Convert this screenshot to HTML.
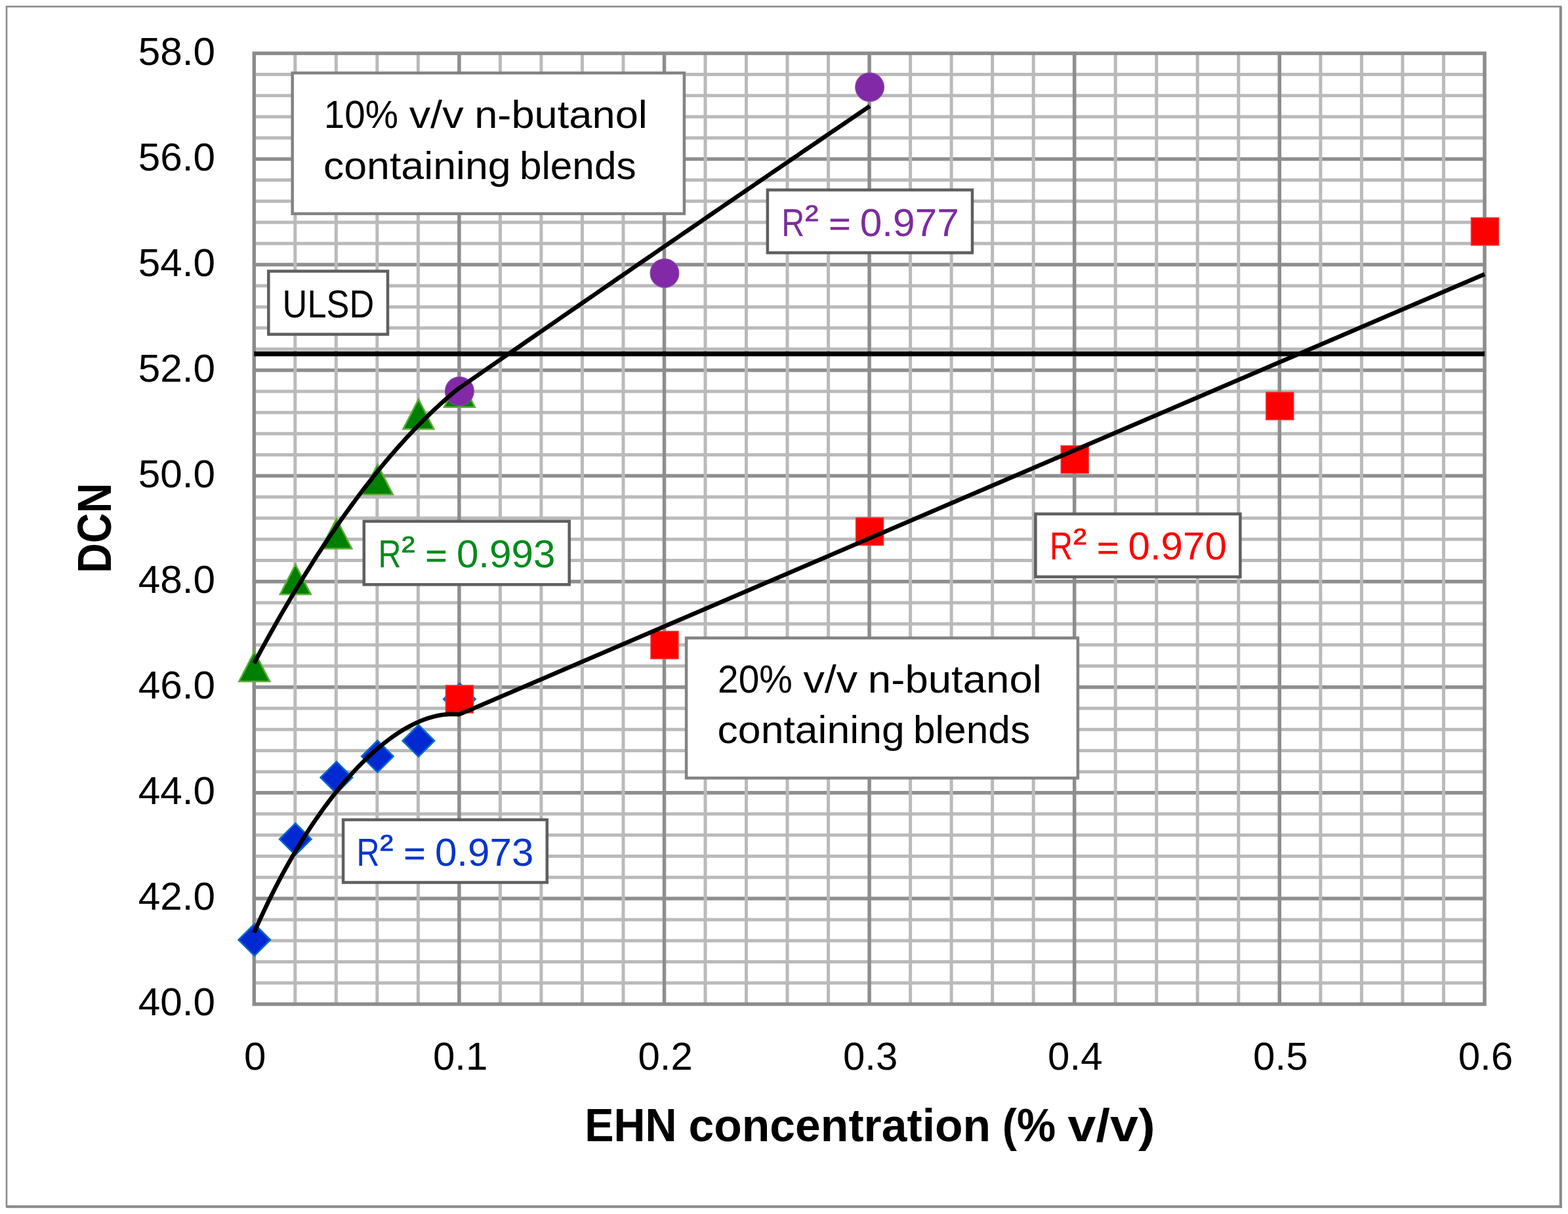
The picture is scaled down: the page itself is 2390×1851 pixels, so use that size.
<!DOCTYPE html>
<html><head><meta charset="utf-8"><title>DCN vs EHN concentration</title>
<style>html,body{margin:0;padding:0;background:#fff;}svg{display:block;}</style>
</head><body>
<svg xmlns="http://www.w3.org/2000/svg" width="2390" height="1851" viewBox="0 0 2390 1851"><rect x="0" y="0" width="2390" height="1851" fill="#fff"/>
<rect x="10" y="10" width="2369" height="1830" fill="none" stroke="#8a8a8a" stroke-width="2.6"/>
<line x1="2378.8" y1="10" x2="2378.8" y2="1841.8" stroke="#8a8a8a" stroke-width="4"/>
<line x1="10" y1="1839.8" x2="2380.8" y2="1839.8" stroke="#8a8a8a" stroke-width="4"/>
<path d="M387.30 113.52H2262.90M387.30 145.73H2262.90M387.30 177.95H2262.90M387.30 210.16H2262.90M387.30 274.60H2262.90M387.30 306.81H2262.90M387.30 339.03H2262.90M387.30 371.24H2262.90M387.30 435.68H2262.90M387.30 467.89H2262.90M387.30 500.11H2262.90M387.30 532.32H2262.90M387.30 596.76H2262.90M387.30 628.97H2262.90M387.30 661.19H2262.90M387.30 693.40H2262.90M387.30 757.84H2262.90M387.30 790.05H2262.90M387.30 822.27H2262.90M387.30 854.48H2262.90M387.30 918.92H2262.90M387.30 951.13H2262.90M387.30 983.35H2262.90M387.30 1015.56H2262.90M387.30 1080.00H2262.90M387.30 1112.21H2262.90M387.30 1144.43H2262.90M387.30 1176.64H2262.90M387.30 1241.08H2262.90M387.30 1273.29H2262.90M387.30 1305.51H2262.90M387.30 1337.72H2262.90M387.30 1402.16H2262.90M387.30 1434.37H2262.90M387.30 1466.59H2262.90M387.30 1498.80H2262.90" stroke="#bababa" stroke-width="5.0" fill="none"/>
<path d="M387.30 242.38H2262.90M387.30 403.46H2262.90M387.30 564.54H2262.90M387.30 725.62H2262.90M387.30 886.70H2262.90M387.30 1047.78H2262.90M387.30 1208.86H2262.90M387.30 1369.94H2262.90" stroke="#8e8e8e" stroke-width="5.5" fill="none"/>
<path d="M449.82 81.30V1531.02M512.34 81.30V1531.02M574.86 81.30V1531.02M637.38 81.30V1531.02M762.42 81.30V1531.02M824.94 81.30V1531.02M887.46 81.30V1531.02M949.98 81.30V1531.02M1075.02 81.30V1531.02M1137.54 81.30V1531.02M1200.06 81.30V1531.02M1262.58 81.30V1531.02M1387.62 81.30V1531.02M1450.14 81.30V1531.02M1512.66 81.30V1531.02M1575.18 81.30V1531.02M1700.22 81.30V1531.02M1762.74 81.30V1531.02M1825.26 81.30V1531.02M1887.78 81.30V1531.02M2012.82 81.30V1531.02M2075.34 81.30V1531.02M2137.86 81.30V1531.02M2200.38 81.30V1531.02" stroke="#bababa" stroke-width="5.0" fill="none"/>
<path d="M699.90 81.30V1531.02M1012.50 81.30V1531.02M1325.10 81.30V1531.02M1637.70 81.30V1531.02M1950.30 81.30V1531.02" stroke="#8e8e8e" stroke-width="5.5" fill="none"/>
<rect x="387.30" y="81.30" width="1875.60" height="1449.72" fill="none" stroke="#8c8c8c" stroke-width="5.5"/>
<line x1="387.30" y1="539.5" x2="2262.90" y2="539.5" stroke="#000" stroke-width="7.3"/>
<path d="M387.80 1408.70L412.10 1433.00L387.80 1457.30L363.50 1433.00Z" fill="#0029d2" stroke="#0a6cc6" stroke-width="2.5"/>
<path d="M450.32 1255.20L474.62 1279.50L450.32 1303.80L426.02 1279.50Z" fill="#0029d2" stroke="#0a6cc6" stroke-width="2.5"/>
<path d="M512.84 1161.20L537.14 1185.50L512.84 1209.80L488.54 1185.50Z" fill="#0029d2" stroke="#0a6cc6" stroke-width="2.5"/>
<path d="M575.36 1129.00L599.66 1153.30L575.36 1177.60L551.06 1153.30Z" fill="#0029d2" stroke="#0a6cc6" stroke-width="2.5"/>
<path d="M637.88 1105.20L662.18 1129.50L637.88 1153.80L613.58 1129.50Z" fill="#0029d2" stroke="#0a6cc6" stroke-width="2.5"/>
<path d="M700.40 1041.70L724.70 1066.00L700.40 1090.30L676.10 1066.00Z" fill="#0029d2" stroke="#0a6cc6" stroke-width="2.5"/>
<path d="M387.80 993.50L411.30 1039.00L364.30 1039.00Z" fill="#008000" stroke="#62ad3c" stroke-width="2.5" stroke-linejoin="miter"/>
<path d="M450.32 860.80L473.82 906.30L426.82 906.30Z" fill="#008000" stroke="#62ad3c" stroke-width="2.5" stroke-linejoin="miter"/>
<path d="M512.84 791.00L536.34 836.50L489.34 836.50Z" fill="#008000" stroke="#62ad3c" stroke-width="2.5" stroke-linejoin="miter"/>
<path d="M575.36 708.40L598.86 753.90L551.86 753.90Z" fill="#008000" stroke="#62ad3c" stroke-width="2.5" stroke-linejoin="miter"/>
<path d="M637.88 608.80L661.38 654.30L614.38 654.30Z" fill="#008000" stroke="#62ad3c" stroke-width="2.5" stroke-linejoin="miter"/>
<path d="M700.40 575.20L723.90 620.70L676.90 620.70Z" fill="#008000" stroke="#62ad3c" stroke-width="2.5" stroke-linejoin="miter"/>
<rect x="679.40" y="1045.00" width="42.00" height="42.00" fill="#ff0000" stroke="#e83a3a" stroke-width="1.5"/>
<rect x="992.00" y="962.50" width="42.00" height="42.00" fill="#ff0000" stroke="#e83a3a" stroke-width="1.5"/>
<rect x="1304.60" y="789.40" width="42.00" height="42.00" fill="#ff0000" stroke="#e83a3a" stroke-width="1.5"/>
<rect x="1617.20" y="679.60" width="42.00" height="42.00" fill="#ff0000" stroke="#e83a3a" stroke-width="1.5"/>
<rect x="1929.80" y="598.00" width="42.00" height="42.00" fill="#ff0000" stroke="#e83a3a" stroke-width="1.5"/>
<rect x="2242.40" y="332.00" width="42.00" height="42.00" fill="#ff0000" stroke="#e83a3a" stroke-width="1.5"/>
<circle cx="700.40" cy="596.40" r="21.9" fill="#8129a6" stroke="#8a4ea8" stroke-width="1.2"/>
<circle cx="1013.00" cy="416.50" r="21.9" fill="#8129a6" stroke="#8a4ea8" stroke-width="1.2"/>
<circle cx="1325.60" cy="132.80" r="21.9" fill="#8129a6" stroke="#8a4ea8" stroke-width="1.2"/>
<path d="M387.30 1011.32 L392.60 1001.44 L397.89 991.66 L403.19 981.97 L408.49 972.38 L413.78 962.89 L419.08 953.49 L424.38 944.18 L429.67 934.97 L434.97 925.86 L440.27 916.84 L445.56 907.91 L450.86 899.08 L456.16 890.35 L461.45 881.71 L466.75 873.17 L472.05 864.72 L477.34 856.37 L482.64 848.11 L487.94 839.95 L493.23 831.88 L498.53 823.91 L503.83 816.03 L509.12 808.25 L514.42 800.56 L519.72 792.97 L525.01 785.47 L530.31 778.07 L535.61 770.76 L540.90 763.55 L546.20 756.43 L551.49 749.41 L556.79 742.49 L562.09 735.66 L567.38 728.92 L572.68 722.28 L577.98 715.74 L583.27 709.29 L588.57 702.93 L593.87 696.67 L599.16 690.51 L604.46 684.44 L609.76 678.47 L615.05 672.59 L620.35 666.80 L625.65 661.12 L630.94 655.52 L636.24 650.03 L641.54 644.62 L646.83 639.31 L652.13 634.10 L657.43 628.99 L662.72 623.96 L668.02 619.04 L673.32 614.20 L678.61 609.47 L683.91 604.83 L689.21 600.28 L694.50 595.83 L699.80 591.69 L707.72 586.40 L715.65 580.90 L723.57 575.40 L731.50 569.90 L739.42 564.41 L747.34 558.91 L755.27 553.42 L763.19 547.93 L771.12 542.44 L779.04 536.95 L786.96 531.46 L794.89 525.98 L802.81 520.50 L810.74 515.01 L818.66 509.53 L826.58 504.05 L834.51 498.58 L842.43 493.10 L850.36 487.62 L858.28 482.15 L866.21 476.68 L874.13 471.21 L882.05 465.74 L889.98 460.27 L897.90 454.80 L905.83 449.34 L913.75 443.88 L921.67 438.41 L929.60 432.95 L937.52 427.49 L945.45 422.04 L953.37 416.58 L961.29 411.12 L969.22 405.67 L977.14 400.22 L985.07 394.77 L992.99 389.32 L1000.91 383.87 L1008.84 378.43 L1016.76 372.98 L1024.69 367.54 L1032.61 362.10 L1040.53 356.66 L1048.46 351.22 L1056.38 345.78 L1064.31 340.34 L1072.23 334.91 L1080.15 329.48 L1088.08 324.04 L1096.00 318.61 L1103.93 313.19 L1111.85 307.76 L1119.77 302.33 L1127.70 296.91 L1135.62 291.48 L1143.55 286.06 L1151.47 280.64 L1159.39 275.22 L1167.32 269.81 L1175.24 264.39 L1183.17 258.98 L1191.09 253.56 L1199.02 248.15 L1206.94 242.74 L1214.86 237.33 L1222.79 231.93 L1230.71 226.52 L1238.64 221.12 L1246.56 215.71 L1254.48 210.31 L1262.41 204.91 L1270.33 199.52 L1278.26 194.12 L1286.18 188.72 L1294.10 183.33 L1302.03 177.94 L1309.95 172.55 L1317.88 167.16 L1325.80 161.77" fill="none" stroke="#000" stroke-width="6.5" stroke-linejoin="round"/>
<path d="M387.30 1421.87 L392.60 1409.95 L397.89 1398.33 L403.19 1387.01 L408.49 1375.98 L413.78 1365.22 L419.08 1354.74 L424.38 1344.51 L429.67 1334.54 L434.97 1324.83 L440.27 1315.35 L445.56 1306.11 L450.86 1297.10 L456.16 1288.31 L461.45 1279.74 L466.75 1271.39 L472.05 1263.24 L477.34 1255.30 L482.64 1247.56 L487.94 1240.01 L493.23 1232.66 L498.53 1225.50 L503.83 1218.52 L509.12 1211.72 L514.42 1205.11 L519.72 1198.67 L525.01 1192.41 L530.31 1186.33 L535.61 1180.41 L540.90 1174.67 L546.20 1169.11 L551.49 1163.71 L556.79 1158.48 L562.09 1153.43 L567.38 1148.54 L572.68 1143.83 L577.98 1139.29 L583.27 1134.93 L588.57 1130.74 L593.87 1126.73 L599.16 1122.90 L604.46 1119.25 L609.76 1115.79 L615.05 1112.52 L620.35 1109.43 L625.65 1106.54 L630.94 1103.85 L636.24 1101.37 L641.54 1099.09 L646.83 1097.02 L652.13 1095.17 L657.43 1093.55 L662.72 1092.15 L668.02 1090.99 L673.32 1090.06 L678.61 1089.39 L683.91 1088.96 L689.21 1088.80 L694.50 1088.91 L699.80 1089.36 L719.59 1080.94 L739.37 1072.44 L759.16 1063.94 L778.94 1055.44 L798.73 1046.95 L818.52 1038.45 L838.30 1029.95 L858.09 1021.45 L877.87 1012.95 L897.66 1004.46 L917.45 995.96 L937.23 987.46 L957.02 978.96 L976.81 970.46 L996.59 961.97 L1016.38 953.47 L1036.16 944.97 L1055.95 936.47 L1075.74 927.97 L1095.52 919.48 L1115.31 910.98 L1135.09 902.48 L1154.88 893.98 L1174.67 885.48 L1194.45 876.99 L1214.24 868.49 L1234.02 859.99 L1253.81 851.49 L1273.60 842.99 L1293.38 834.50 L1313.17 826.00 L1332.95 817.50 L1352.74 809.00 L1372.53 800.50 L1392.31 792.01 L1412.10 783.51 L1431.88 775.01 L1451.67 766.51 L1471.46 758.01 L1491.24 749.52 L1511.03 741.02 L1530.82 732.52 L1550.60 724.02 L1570.39 715.52 L1590.17 707.03 L1609.96 698.53 L1629.75 690.03 L1649.53 681.53 L1669.32 673.03 L1689.10 664.54 L1708.89 656.04 L1728.68 647.54 L1748.46 639.04 L1768.25 630.54 L1788.03 622.05 L1807.82 613.55 L1827.61 605.05 L1847.39 596.55 L1867.18 588.05 L1886.96 579.56 L1906.75 571.06 L1926.54 562.56 L1946.32 554.06 L1966.11 545.56 L1985.89 537.07 L2005.68 528.57 L2025.47 520.07 L2045.25 511.57 L2065.04 503.07 L2084.83 494.58 L2104.61 486.08 L2124.40 477.58 L2144.18 469.08 L2163.97 460.58 L2183.76 452.08 L2203.54 443.59 L2223.33 435.09 L2243.11 426.59 L2262.90 418.09" fill="none" stroke="#000" stroke-width="6.5" stroke-linejoin="round"/>
<rect x="445.70" y="111.30" width="597.20" height="214.50" fill="#fff" stroke="#838383" stroke-width="4.5"/>
<rect x="1046.10" y="972.70" width="596.80" height="213.60" fill="#fff" stroke="#838383" stroke-width="4.5"/>
<rect x="409.30" y="413.50" width="181.70" height="96.20" fill="#fff" stroke="#5f5f5f" stroke-width="4.5"/>
<rect x="1169.90" y="289.60" width="312.10" height="95.80" fill="#fff" stroke="#5f5f5f" stroke-width="4.5"/>
<rect x="554.80" y="794.80" width="312.90" height="96.50" fill="#fff" stroke="#5f5f5f" stroke-width="4.5"/>
<rect x="523.10" y="1249.90" width="310.70" height="95.60" fill="#fff" stroke="#5f5f5f" stroke-width="4.5"/>
<rect x="1578.40" y="783.60" width="312.00" height="95.90" fill="#fff" stroke="#5f5f5f" stroke-width="4.5"/>
<text transform="translate(210.69,98.70) scale(1.0200,1)" font-family="'Liberation Sans', Arial, sans-serif" font-size="59.14" font-weight="normal" fill="#000">58.0</text>
<text transform="translate(210.69,259.78) scale(1.0200,1)" font-family="'Liberation Sans', Arial, sans-serif" font-size="59.14" font-weight="normal" fill="#000">56.0</text>
<text transform="translate(210.69,420.86) scale(1.0200,1)" font-family="'Liberation Sans', Arial, sans-serif" font-size="59.14" font-weight="normal" fill="#000">54.0</text>
<text transform="translate(210.69,581.94) scale(1.0200,1)" font-family="'Liberation Sans', Arial, sans-serif" font-size="59.14" font-weight="normal" fill="#000">52.0</text>
<text transform="translate(210.69,743.02) scale(1.0200,1)" font-family="'Liberation Sans', Arial, sans-serif" font-size="59.14" font-weight="normal" fill="#000">50.0</text>
<text transform="translate(210.69,904.10) scale(1.0200,1)" font-family="'Liberation Sans', Arial, sans-serif" font-size="59.14" font-weight="normal" fill="#000">48.0</text>
<text transform="translate(210.69,1065.18) scale(1.0200,1)" font-family="'Liberation Sans', Arial, sans-serif" font-size="59.14" font-weight="normal" fill="#000">46.0</text>
<text transform="translate(210.69,1226.26) scale(1.0200,1)" font-family="'Liberation Sans', Arial, sans-serif" font-size="59.14" font-weight="normal" fill="#000">44.0</text>
<text transform="translate(210.69,1387.34) scale(1.0200,1)" font-family="'Liberation Sans', Arial, sans-serif" font-size="59.14" font-weight="normal" fill="#000">42.0</text>
<text transform="translate(210.69,1548.42) scale(1.0200,1)" font-family="'Liberation Sans', Arial, sans-serif" font-size="59.14" font-weight="normal" fill="#000">40.0</text>
<text transform="translate(371.99,1631.40) scale(1.0100,1)" font-family="'Liberation Sans', Arial, sans-serif" font-size="59.43" font-weight="normal" fill="#000">0</text>
<text transform="translate(659.89,1631.40) scale(1.0100,1)" font-family="'Liberation Sans', Arial, sans-serif" font-size="59.43" font-weight="normal" fill="#000">0.1</text>
<text transform="translate(972.49,1631.40) scale(1.0100,1)" font-family="'Liberation Sans', Arial, sans-serif" font-size="59.43" font-weight="normal" fill="#000">0.2</text>
<text transform="translate(1284.89,1631.40) scale(1.0100,1)" font-family="'Liberation Sans', Arial, sans-serif" font-size="59.43" font-weight="normal" fill="#000">0.3</text>
<text transform="translate(1597.09,1631.40) scale(1.0100,1)" font-family="'Liberation Sans', Arial, sans-serif" font-size="59.43" font-weight="normal" fill="#000">0.4</text>
<text transform="translate(1910.09,1631.40) scale(1.0100,1)" font-family="'Liberation Sans', Arial, sans-serif" font-size="59.43" font-weight="normal" fill="#000">0.5</text>
<text transform="translate(2222.69,1631.40) scale(1.0100,1)" font-family="'Liberation Sans', Arial, sans-serif" font-size="59.43" font-weight="normal" fill="#000">0.6</text>
<text transform="translate(891.16,1740.00) scale(0.9406,1)" font-family="'Liberation Sans', Arial, sans-serif" font-size="70.72" font-weight="bold" fill="#000">EHN</text>
<text transform="translate(1049.51,1740.00) scale(0.9852,1)" font-family="'Liberation Sans', Arial, sans-serif" font-size="70.72" font-weight="bold" fill="#000">concentration</text>
<text transform="translate(1527.77,1740.00) scale(0.9421,1)" font-family="'Liberation Sans', Arial, sans-serif" font-size="70.72" font-weight="bold" fill="#000">(%</text>
<text transform="translate(1627.58,1740.00) scale(1.0927,1)" font-family="'Liberation Sans', Arial, sans-serif" font-size="70.72" font-weight="bold" fill="#000">v/v)</text>
<text transform="translate(493.87,195.00) scale(0.9649,1)" font-family="'Liberation Sans', Arial, sans-serif" font-size="58.56" font-weight="normal" fill="#000">10%</text>
<text transform="translate(623.68,195.00) scale(1.1079,1)" font-family="'Liberation Sans', Arial, sans-serif" font-size="58.56" font-weight="normal" fill="#000">v/v</text>
<text transform="translate(723.18,195.00) scale(1.0799,1)" font-family="'Liberation Sans', Arial, sans-serif" font-size="58.56" font-weight="normal" fill="#000">n-butanol</text>
<text transform="translate(492.88,273.10) scale(1.0706,1)" font-family="'Liberation Sans', Arial, sans-serif" font-size="58.56" font-weight="normal" fill="#000">containing</text>
<text transform="translate(791.88,273.10) scale(1.0299,1)" font-family="'Liberation Sans', Arial, sans-serif" font-size="58.56" font-weight="normal" fill="#000">blends</text>
<text transform="translate(1094.05,1056.20) scale(0.9719,1)" font-family="'Liberation Sans', Arial, sans-serif" font-size="58.56" font-weight="normal" fill="#000">20%</text>
<text transform="translate(1224.48,1056.20) scale(1.1052,1)" font-family="'Liberation Sans', Arial, sans-serif" font-size="58.56" font-weight="normal" fill="#000">v/v</text>
<text transform="translate(1322.86,1056.20) scale(1.0858,1)" font-family="'Liberation Sans', Arial, sans-serif" font-size="58.56" font-weight="normal" fill="#000">n-butanol</text>
<text transform="translate(1093.59,1133.20) scale(1.0683,1)" font-family="'Liberation Sans', Arial, sans-serif" font-size="58.56" font-weight="normal" fill="#000">containing</text>
<text transform="translate(1391.97,1133.20) scale(1.0329,1)" font-family="'Liberation Sans', Arial, sans-serif" font-size="58.56" font-weight="normal" fill="#000">blends</text>
<text transform="translate(430.59,483.80) scale(0.8894,1)" font-family="'Liberation Sans', Arial, sans-serif" font-size="58.84" font-weight="normal" fill="#000">ULSD</text>
<text transform="translate(1191.36,359.80) scale(0.8238,1)" font-family="'Liberation Sans', Arial, sans-serif" font-size="58.84" font-weight="normal" fill="#7b2ca0">R</text>
<text transform="translate(1226.68,336.60) scale(1.0941,1)" font-family="'Liberation Sans', Arial, sans-serif" font-size="35.02" font-weight="normal" fill="#7b2ca0" stroke="#7b2ca0" stroke-width="1.1">2</text>
<text transform="translate(1263.48,358.10) scale(1.1204,1)" font-family="'Liberation Sans', Arial, sans-serif" font-size="50.41" font-weight="normal" fill="#7b2ca0" stroke="#7b2ca0" stroke-width="0.8">=</text>
<text transform="translate(1310.79,359.80) scale(1.0251,1)" font-family="'Liberation Sans', Arial, sans-serif" font-size="58.85" font-weight="normal" fill="#7b2ca0">0.977</text>
<text transform="translate(576.46,865.30) scale(0.8238,1)" font-family="'Liberation Sans', Arial, sans-serif" font-size="58.84" font-weight="normal" fill="#008a1c">R</text>
<text transform="translate(611.78,842.10) scale(1.0941,1)" font-family="'Liberation Sans', Arial, sans-serif" font-size="35.02" font-weight="normal" fill="#008a1c" stroke="#008a1c" stroke-width="1.1">2</text>
<text transform="translate(648.58,863.60) scale(1.1204,1)" font-family="'Liberation Sans', Arial, sans-serif" font-size="50.41" font-weight="normal" fill="#008a1c" stroke="#008a1c" stroke-width="0.8">=</text>
<text transform="translate(695.89,865.30) scale(1.0223,1)" font-family="'Liberation Sans', Arial, sans-serif" font-size="58.85" font-weight="normal" fill="#008a1c">0.993</text>
<text transform="translate(543.46,1319.90) scale(0.8238,1)" font-family="'Liberation Sans', Arial, sans-serif" font-size="58.84" font-weight="normal" fill="#0536cc">R</text>
<text transform="translate(578.78,1296.70) scale(1.0941,1)" font-family="'Liberation Sans', Arial, sans-serif" font-size="35.02" font-weight="normal" fill="#0536cc" stroke="#0536cc" stroke-width="1.1">2</text>
<text transform="translate(615.58,1318.20) scale(1.1204,1)" font-family="'Liberation Sans', Arial, sans-serif" font-size="50.41" font-weight="normal" fill="#0536cc" stroke="#0536cc" stroke-width="0.8">=</text>
<text transform="translate(662.89,1319.90) scale(1.0223,1)" font-family="'Liberation Sans', Arial, sans-serif" font-size="58.85" font-weight="normal" fill="#0536cc">0.973</text>
<text transform="translate(1600.06,853.30) scale(0.8238,1)" font-family="'Liberation Sans', Arial, sans-serif" font-size="58.84" font-weight="normal" fill="#ff0000">R</text>
<text transform="translate(1635.38,830.10) scale(1.0941,1)" font-family="'Liberation Sans', Arial, sans-serif" font-size="35.02" font-weight="normal" fill="#ff0000" stroke="#ff0000" stroke-width="1.1">2</text>
<text transform="translate(1672.18,851.60) scale(1.1204,1)" font-family="'Liberation Sans', Arial, sans-serif" font-size="50.41" font-weight="normal" fill="#ff0000" stroke="#ff0000" stroke-width="0.8">=</text>
<text transform="translate(1719.50,853.30) scale(1.0209,1)" font-family="'Liberation Sans', Arial, sans-serif" font-size="58.85" font-weight="normal" fill="#ff0000">0.970</text>
<text transform="translate(168.80,873.82) rotate(-90) scale(0.8689,1)" font-family="'Liberation Sans', Arial, sans-serif" font-size="72.90" font-weight="bold" fill="#000">DCN</text></svg>
</body></html>
